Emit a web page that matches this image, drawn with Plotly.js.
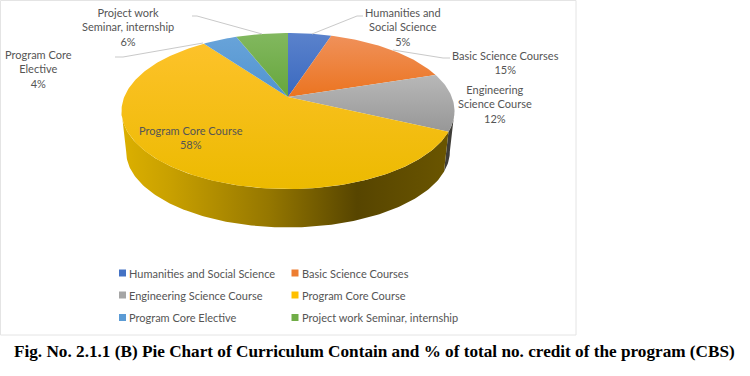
<!DOCTYPE html>
<html><head><meta charset="utf-8">
<script src="https://cdn.plot.ly/plotly-3.0.1.min.js"></script>
<style>html,body{margin:0;padding:0;background:#fff}#c{width:750px;height:376px}</style></head>
<body><div id="c"></div>
<script>
const categories = ["Humanities and Social Science","Basic Science Courses","Engineering Science Course","Program Core Course","Program Core Elective","Project work Seminar, internship"];
const values = [5,15,12,58,4,6];
const wrappedLabels = ["Humanities and<br>Social Science","Basic Science Courses","Engineering<br>Science Course","Program Core Course","Program Core<br>Elective","Project work<br>Seminar, internship"];
const legendColors = ["#4472c4","#ed7d31","#a5a5a5","#ffc000","#5b9bd5","#70ad47"];
const topGradient = [["#5a82cc","#3a69bf"],["#f0915a","#eb7420"],["#b8b8b8","#979797"],["#fdc22a","#ecba00"],["#68a3d9","#5094d0"],["#82b85f","#66a63c"]];
const labelCenters = [[403,27],[505,62],[495,104],[191,137],[38,69],[128,27]];
const legendX = [122.5,295,122.5,295,122.5,295];
const legendY = [273,273,295,295,317.5,317.5];
const leaders = [[[312,357,363],[34,16,16]],[[393,443,450],[50,58,58]],[[203,123,115],[43,57,57]],[[262,197,192],[34,16,16]]];

// projected-disc model of the 3-D pie
const cx=288, cy=97, A=163.8, B=75.5, P=0.1795, depth=41, baseScale=0.972;
const proj=(deg,s=1,dy=0)=>{const t=deg*Math.PI/180,u=Math.sin(t),v=Math.cos(t),w=1+P*v;
  return [cx+s*A*u/w, cy-s*B*v/w+dy];};
const total=values.reduce((a,b)=>a+b,0);
const arc=(a,b,s=1,dy=0)=>{const n=Math.max(2,Math.ceil(Math.abs(b-a)));const o=[];
  for(let i=0;i<=n;i++)o.push(proj(a+(b-a)*i/n,s,dy));return o;};
const traces=[];
const edgeDeg=Math.acos(-P)*180/Math.PI;
const rim=(a,b,fill)=>{const p=arc(a,b).concat(arc(b,a,baseScale,depth));p.push(p[0]);
  return Object.assign({x:p.map(q=>q[0]),y:p.map(q=>q[1]),type:'scatter',mode:'lines',fill:'toself',line:{width:0},showlegend:false,hoverinfo:'skip'},fill);};
let cum=0; const bounds=values.map(v=>{const a=cum/total*360;cum+=v;return [a,cum/total*360];});
traces.push(rim(edgeDeg,bounds[2][1],{fillcolor:'#3f3d38'}));
traces.push(rim(bounds[3][0],360-edgeDeg,{fillgradient:{type:'horizontal',colorscale:[[0,'#dcb000'],[0.15,'#c8a000'],[0.45,'#957700'],[0.72,'#574500'],[1,'#6a5500']]}}));
bounds.forEach((b,i)=>{const p=[[cx,cy]].concat(arc(b[0],b[1]));p.push([cx,cy]);
  traces.push({x:p.map(q=>q[0]),y:p.map(q=>q[1]),type:'scatter',mode:'lines',fill:'toself',line:{width:0},showlegend:false,hoverinfo:'skip',
    fillgradient:{type:'vertical',colorscale:[[0,topGradient[i][1]],[1,topGradient[i][0]]]}});
});
leaders.forEach(l=>traces.push({x:l[0],y:l[1],type:'scatter',mode:'lines',line:{color:'#c9c9c9',width:1},showlegend:false,hoverinfo:'skip'}));
const fontUI={family:'Lato, "Open Sans", sans-serif',size:11,color:'#555555'};
traces.push({x:legendX,y:legendY,type:'scatter',mode:'markers',marker:{symbol:'square',size:7,color:legendColors},showlegend:false,hoverinfo:'skip'});

const annotations=categories.map((c,i)=>({xref:'x',yref:'y',x:labelCenters[i][0],y:labelCenters[i][1],
  text:wrappedLabels[i]+'<br>'+values[i]+'%',showarrow:false,align:'center',xanchor:'center',yanchor:'middle',font:fontUI}));
categories.forEach((c,i)=>annotations.push({xref:'x',yref:'y',x:legendX[i]+4.5,y:legendY[i],text:c,showarrow:false,xanchor:'left',yanchor:'middle',font:fontUI}));
annotations.push({xref:'x',yref:'y',x:374,y:351,xanchor:'center',yanchor:'middle',showarrow:false,
  text:'Fig. No. 2.1.1 (B) Pie Chart of Curriculum Contain and % of total no. credit of the program (CBS)',
  font:{family:'"Liberation Serif", serif',size:17.2,color:'#000',weight:700}});
const layout={width:750,height:376,margin:{l:0,r:0,t:0,b:0},paper_bgcolor:'#fff',plot_bgcolor:'rgba(0,0,0,0)',
  xaxis:{range:[0,750],visible:false,fixedrange:true},yaxis:{range:[376,0],visible:false,fixedrange:true},
  showlegend:false,
  shapes:[{type:'rect',xref:'x',yref:'y',x0:0.5,x1:576,y0:0.5,y1:335,line:{color:'#e4e4e4',width:1},layer:'below'}],
  annotations};
Plotly.newPlot('c',traces,layout,{displayModeBar:false,staticPlot:true});
</script></body></html>
